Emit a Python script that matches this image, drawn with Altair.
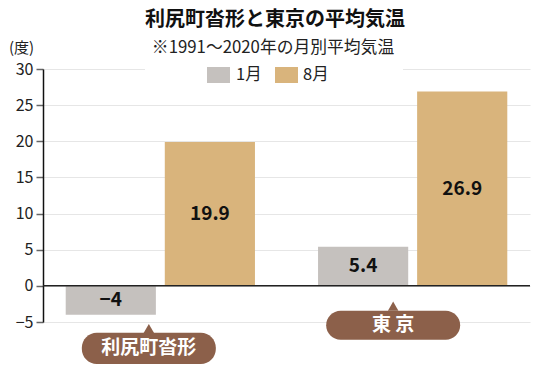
import altair as alt
import pandas as pd

cities = ["利尻町沓形", "東京"]
callout_labels = ["利尻町沓形", "東 京"]
months = ["1月", "8月"]
jan = [-4, 5.4]
aug = [19.9, 26.9]
month_colors = ["#c5c1be", "#d9b47c"]
title_text = "利尻町沓形と東京の平均気温"
subtitle_text = "※1991～2020年の月別平均気温"
y_ticks = [-5, 0, 5, 10, 15, 20, 25, 30]

rows = []
for i, c in enumerate(cities):
    rows.append({"city": c, "month": months[0], "value": jan[i]})
    rows.append({"city": c, "month": months[1], "value": aug[i]})
df = pd.DataFrame(rows)
df["mid"] = df["value"] / 2

FONT = "Noto Sans CJK JP"
BROWN = "#8c604a"

x_scale = alt.Scale(domain=cities, paddingInner=0.25, paddingOuter=0.09)
off_scale = alt.Scale(domain=months, paddingInner=0.09, paddingOuter=0)
y_scale = alt.Scale(domain=[-5, 30], nice=False, zero=False)

Y_AXIS = alt.Axis(values=y_ticks, title="(度)", titleAngle=0, titleAlign="center",
                  titleBaseline="bottom", titleX=-22, titleY=-14, titleFont=FONT,
                  titleFontSize=15, titleFontWeight="normal", titleColor="#222",
                  labelFont=FONT, labelFontSize=16, labelColor="#222", labelPadding=3,
                  labelOverlap=False, labelFlush=False, labelBound=False,
                  tickColor="#666", tickSize=7, tickWidth=1.5,
                  domainColor="#111", domainWidth=1.5,
                  grid=True, gridColor="#e6e6e6", gridWidth=1.2)


def Y(field):
    return alt.Y(field, type="quantitative", scale=y_scale, axis=Y_AXIS)


bars = alt.Chart(df).mark_bar().encode(
    x=alt.X("city:N", scale=x_scale, axis=None, sort=cities),
    xOffset=alt.XOffset("month:N", scale=off_scale),
    y=Y("value"),
    y2=alt.datum(0),
    color=alt.Color("month:N", scale=alt.Scale(domain=months, range=month_colors), legend=None),
)

labels = alt.Chart(df).mark_text(font=FONT, fontSize=19, fontWeight="bold", color="#111").encode(
    x=alt.X("city:N", scale=x_scale, axis=None, sort=cities),
    xOffset=alt.XOffset("month:N", scale=off_scale),
    y=Y("mid"),
    text=alt.Text("value:Q"),
)

zero = alt.Chart(pd.DataFrame({"z": [0]})).mark_rule(color="#222", strokeWidth=1.5).encode(
    y=Y("z")
)

# white block behind title/legend, breaking the top gridline
blank = alt.Chart(pd.DataFrame({"a": [0]})).mark_rect(color="white").encode(
    x=alt.value(102), x2=alt.value(360), y=alt.value(-5), y2=alt.value(5)
)

title = alt.Chart(pd.DataFrame({"t": [title_text]})).mark_text(
    font=FONT, fontSize=20, fontWeight="bold", color="#111"
).encode(x=alt.value(232), y=alt.value(-49), text="t:N")

subtitle = alt.Chart(pd.DataFrame({"t": [subtitle_text]})).mark_text(
    font=FONT, fontSize=16.8, color="#222"
).encode(x=alt.value(230), y=alt.value(-21), text="t:N")

leg_sq1 = alt.Chart(pd.DataFrame({"a": [0]})).mark_rect(color=month_colors[0]).encode(
    x=alt.value(164), x2=alt.value(187), y=alt.value(-2), y2=alt.value(14))
leg_sq2 = alt.Chart(pd.DataFrame({"a": [0]})).mark_rect(color=month_colors[1]).encode(
    x=alt.value(232), x2=alt.value(255), y=alt.value(-2), y2=alt.value(14))
leg_t1 = alt.Chart(pd.DataFrame({"t": [months[0]]})).mark_text(
    font=FONT, fontSize=16.5, color="#222", align="left").encode(
    x=alt.value(193), y=alt.value(6), text="t:N")
leg_t2 = alt.Chart(pd.DataFrame({"t": [months[1]]})).mark_text(
    font=FONT, fontSize=16.5, color="#222", align="left").encode(
    x=alt.value(260), y=alt.value(6), text="t:N")


def callout(city, label, top, bottom, tip, offset):
    d = pd.DataFrame({"city": [city], "label": [label], "top": [top], "bottom": [bottom],
                      "mid": [(top + bottom) / 2], "tip": [tip]})
    xenc = alt.X("city:N", scale=x_scale, axis=None, sort=cities)
    box = alt.Chart(d).mark_bar(width=134, cornerRadius=15, color=BROWN, xOffset=offset).encode(
        x=xenc, y=Y("top"), y2="bottom:Q")
    tri = alt.Chart(d).mark_point(shape="triangle-up", filled=True, size=110, color=BROWN,
                                  opacity=1, xOffset=offset).encode(
        x=xenc, y=Y("tip"))
    txt = alt.Chart(d).mark_text(font=FONT, fontSize=19, fontWeight="bold", color="white",
                                 xOffset=offset).encode(
        x=xenc, y=Y("mid"), text=alt.Text("label:N"))
    return [tri, box, txt]


call1 = callout(cities[0], callout_labels[0], -6.5, -10.8, -5.9, -11.5)
call2 = callout(cities[1], callout_labels[1], -3.46, -7.47, -2.8, -19.5)

chart = alt.layer(
    bars, zero, labels, blank, title, subtitle, leg_sq1, leg_sq2, leg_t1, leg_t2, *call1, *call2
).properties(
    width=487, height=253,
    autosize=alt.AutoSizeParams(type="none"),
    padding={"left": 35, "top": 61, "right": 12, "bottom": 42},
).configure_view(stroke=None)

chart.save("out.html", embed_options={"renderer": "svg", "actions": False})
